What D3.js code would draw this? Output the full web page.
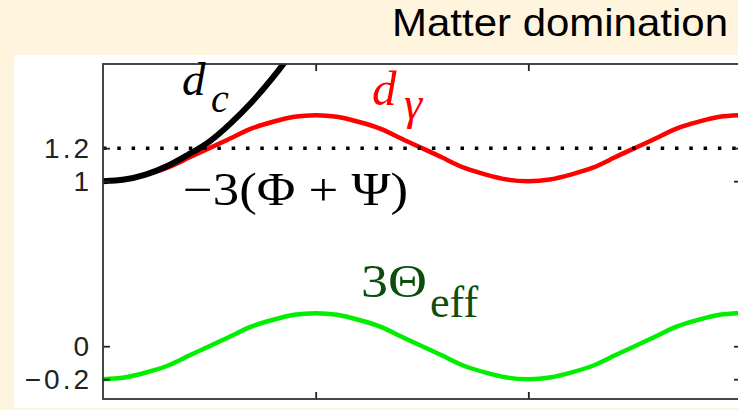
<!DOCTYPE html>
<html>
<head>
<meta charset="utf-8">
<script src="https://cdn.jsdelivr.net/npm/d3@7"></script>
<style>
  body { margin: 0; background: #fff5df; }
  svg { display: block; }
</style>
</head>
<body>
<div id="chart"></div>
<script>
// values (x in units of the tick spacing)
const tRed = [0, 0.1, 0.2, 0.3, 0.4, 0.5, 0.6, 0.7, 0.8, 0.9, 1.0, 1.1, 1.2, 1.3, 1.4, 1.5,
              1.6, 1.7, 1.8, 1.9, 2.0, 2.1, 2.2, 2.3, 2.4, 2.5, 2.6, 2.7, 2.8, 2.9, 3.0];
const dGamma = [1.00, 1.01, 1.04, 1.08, 1.14, 1.20, 1.26, 1.32, 1.36, 1.39, 1.40, 1.39, 1.36, 1.32, 1.26, 1.20,
                1.14, 1.08, 1.04, 1.01, 1.00, 1.01, 1.04, 1.08, 1.14, 1.20, 1.26, 1.32, 1.36, 1.39, 1.40];
const theta3 = [-0.20, -0.19, -0.16, -0.12, -0.06, 0.00, 0.06, 0.12, 0.16, 0.19, 0.20, 0.19, 0.16, 0.12, 0.06, 0.00,
                -0.06, -0.12, -0.16, -0.19, -0.20, -0.19, -0.16, -0.12, -0.06, 0.00, 0.06, 0.12, 0.16, 0.19, 0.20];
const tBlack = [0, 0.1, 0.2, 0.3, 0.4, 0.5, 0.6, 0.7, 0.8, 0.9, 1.0];
const dC = [1.00, 1.01, 1.04, 1.09, 1.16, 1.24, 1.35, 1.48, 1.63, 1.80, 1.98];
const potLevel = 1.2;   // -3(Phi+Psi), dotted line
const yTicks = [-0.2, 0, 1, 1.2];
const yTickLabels = ["\u22120.2", "0", "1", "1.2"];
const xTicks = [1, 2];

const W = 738, H = 410;
const svg = d3.select("#chart").append("svg")
    .attr("width", W)
    .attr("height", H);

svg.append("rect").attr("width", W).attr("height", H).attr("fill", "#fff5df");
// white panel
svg.append("rect")
    .attr("x", 14).attr("y", 55)
    .attr("width", W - 14).attr("height", 353)
    .attr("fill", "#ffffff");

const pLeft = 103, pRight = 741, pTop = 64, pBottom = 399;

const x = d3.scaleLinear().domain([0, 3]).range([pLeft, pRight]);
const y = d3.scaleLinear().domain([-0.32, 1.71]).range([pBottom, pTop]);

svg.append("clipPath").attr("id", "clip")
  .append("rect")
    .attr("x", pLeft).attr("y", pTop)
    .attr("width", pRight - pLeft).attr("height", pBottom - pTop);

const plot = svg.append("g").attr("clip-path", "url(#clip)");

const line = (xs) => d3.line()
    .x((d, i) => x(xs[i]))
    .y(d => y(d))
    .curve(d3.curveNatural);

// curves
plot.append("path")
    .datum(theta3)
    .attr("d", line(tRed))
    .attr("fill", "none")
    .attr("stroke", "#00ee00")
    .attr("stroke-width", 4.5);

plot.append("path")
    .datum(dGamma)
    .attr("d", line(tRed))
    .attr("fill", "none")
    .attr("stroke", "#ff0000")
    .attr("stroke-width", 4.5);

plot.append("path")
    .datum(dC)
    .attr("d", line(tBlack))
    .attr("fill", "none")
    .attr("stroke", "#000000")
    .attr("stroke-width", 6);

// dotted potential line
plot.append("line")
    .attr("x1", pLeft).attr("x2", pRight)
    .attr("y1", y(potLevel)).attr("y2", y(potLevel))
    .attr("stroke", "#000")
    .attr("stroke-width", 3.5)
    .attr("stroke-dasharray", "3.5,10.8");

// axes
const axisLeft = svg.append("g")
    .attr("transform", `translate(${pLeft},0)`)
    .call(d3.axisLeft(y).tickValues(yTicks).tickSize(-7).tickPadding(11)
        .tickFormat((d, i) => yTickLabels[i]));
const axisRight = svg.append("g")
    .attr("transform", `translate(${pRight},0)`)
    .call(d3.axisRight(y).tickValues(yTicks).tickSize(-7).tickFormat(""));
const axisTop = svg.append("g")
    .attr("transform", `translate(0,${pTop})`)
    .call(d3.axisTop(x).tickValues(xTicks).tickSize(-7).tickFormat(""));
const axisBottom = svg.append("g")
    .attr("transform", `translate(0,${pBottom})`)
    .call(d3.axisBottom(x).tickValues(xTicks).tickSize(-7).tickFormat(""));

[axisLeft, axisRight, axisTop, axisBottom].forEach(a => {
    a.select(".domain").remove();
    a.selectAll("line").attr("stroke", "#222").attr("stroke-width", 1.8);
});
axisLeft.selectAll("text")
    .attr("font-family", "'Liberation Sans', Arial, sans-serif")
    .attr("font-size", 28)
    .attr("letter-spacing", 3)
    .attr("fill", "#222");

// frame
svg.append("rect")
    .attr("x", pLeft).attr("y", pTop)
    .attr("width", pRight - pLeft).attr("height", pBottom - pTop)
    .attr("fill", "none")
    .attr("stroke", "#333")
    .attr("stroke-width", 1.8);

// title
svg.append("text")
    .attr("x", 728).attr("y", 36)
    .attr("text-anchor", "end")
    .attr("font-family", "'Liberation Sans', Arial, sans-serif")
    .attr("font-size", 39)
    .attr("textLength", 336)
    .attr("lengthAdjust", "spacingAndGlyphs")
    .attr("fill", "#000")
    .text("Matter domination");

// curve labels
const serif = "'Liberation Serif', 'Times New Roman', serif";

const lbl1 = svg.append("text")
    .attr("x", 182).attr("y", 95)
    .attr("font-family", serif)
    .attr("font-style", "italic")
    .attr("font-size", 47)
    .attr("fill", "#000");
lbl1.append("tspan").text("d");
lbl1.append("tspan").attr("x", 211).attr("y", 112).attr("font-size", 40).text("c");

const lbl2 = svg.append("text")
    .attr("x", 372).attr("y", 105)
    .attr("font-family", serif)
    .attr("font-style", "italic")
    .attr("font-size", 49)
    .attr("fill", "#ff0000");
lbl2.append("tspan").text("d");
lbl2.append("tspan").attr("x", 404).attr("y", 119).attr("font-size", 46).text("\u03b3");

svg.append("text")
    .attr("x", 183).attr("y", 205)
    .attr("font-family", serif)
    .attr("font-size", 46)
    .attr("textLength", 225)
    .attr("lengthAdjust", "spacingAndGlyphs")
    .attr("fill", "#000")
    .text("\u22123(\u03a6 + \u03a8)");

const lbl4 = svg.append("text")
    .attr("x", 361).attr("y", 297)
    .attr("font-family", serif)
    .attr("font-size", 46)
    .attr("fill", "#0d4d0d");
lbl4.append("tspan").attr("textLength", 66).attr("lengthAdjust", "spacingAndGlyphs").text("3\u0398");
lbl4.append("tspan").attr("x", 430).attr("y", 317).attr("font-size", 44).text("eff");
</script>
</body>
</html>
